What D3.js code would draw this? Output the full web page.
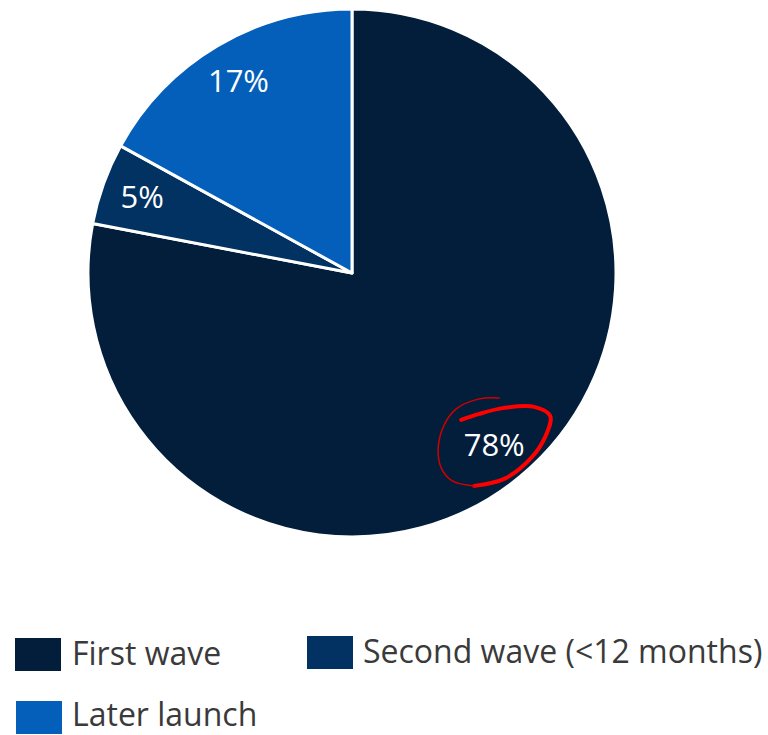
<!DOCTYPE html>
<html><head><meta charset="utf-8">
<script src="https://cdn.jsdelivr.net/npm/d3@7/dist/d3.min.js"></script>
<style>body{margin:0;background:#fff;}svg{display:block;font-family:"Open Sans",sans-serif;}</style>
</head><body>
<svg id="c" width="768" height="735"></svg>
<script>
const categories = ["First wave", "Second wave (<12 months)", "Later launch"];
const values = [78, 5, 17];
const colors = ["#021e3b", "#013262", "#035fba"];

const svg = d3.select("#c");
const cx = 352, cy = 273, r = 264;
const g = svg.append("g").attr("transform", `translate(${cx},${cy})`);
const pie = d3.pie().sort(null).value(d => d)(values);
const arc = d3.arc().innerRadius(0).outerRadius(r);
const labelArc = d3.arc().innerRadius(r * 0.845).outerRadius(r * 0.845);

g.selectAll("path.slice").data(pie).join("path")
  .attr("class", "slice")
  .attr("d", arc)
  .attr("fill", (d, i) => colors[i])
  .attr("stroke", "#fff").attr("stroke-width", 3).attr("stroke-linejoin", "round");

g.selectAll("text.lbl").data(pie).join("text")
  .attr("class", "lbl")
  .attr("transform", d => `translate(${labelArc.centroid(d)})`)
  .attr("text-anchor", "middle").attr("dy", "0.35em")
  .attr("fill", "#fff").attr("font-size", 31)
  .text(d => d.data + "%");

// hand-drawn red ellipse around the largest slice label
const big = labelArc.centroid(pie[0]);
const ex = cx + big[0], ey = cy + big[1];
const line = d3.line().curve(d3.curveCatmullRom.alpha(0.5));
const thick = [[-33,-25],[-15,-31],[10,-37],[40,-38],[56,-29],[51,-8],[37,13],[10,34],[-20,41]];
const thin = [[-20,41],[-42,36],[-53,23],[-56,3],[-50,-20],[-38,-36],[-15,-46],[5,-47]];
const off = p => [ex + p[0], ey + p[1]];
svg.append("path").attr("d", line(thick.map(off))).attr("fill", "none")
  .attr("stroke", "#ff0000").attr("stroke-width", 4).attr("stroke-linecap", "round");
svg.append("path").attr("d", line(thin.map(off))).attr("fill", "none")
  .attr("stroke", "#d00000").attr("stroke-width", 1.5).attr("stroke-linecap", "round");

// legend
const legendPos = [[15, 638, 72, 665], [307, 636, 363, 663], [16, 701, 72, 726]];
const lg = svg.selectAll("g.leg").data(categories).join("g").attr("class", "leg");
lg.append("rect")
  .attr("x", (d, i) => legendPos[i][0]).attr("y", (d, i) => legendPos[i][1])
  .attr("width", 46).attr("height", 33)
  .attr("fill", (d, i) => colors[i]);
lg.append("text")
  .attr("x", (d, i) => legendPos[i][2]).attr("y", (d, i) => legendPos[i][3])
  .attr("font-size", 32).attr("fill", "#3a3a3a")
  .text(d => d);
</script>
</body></html>
